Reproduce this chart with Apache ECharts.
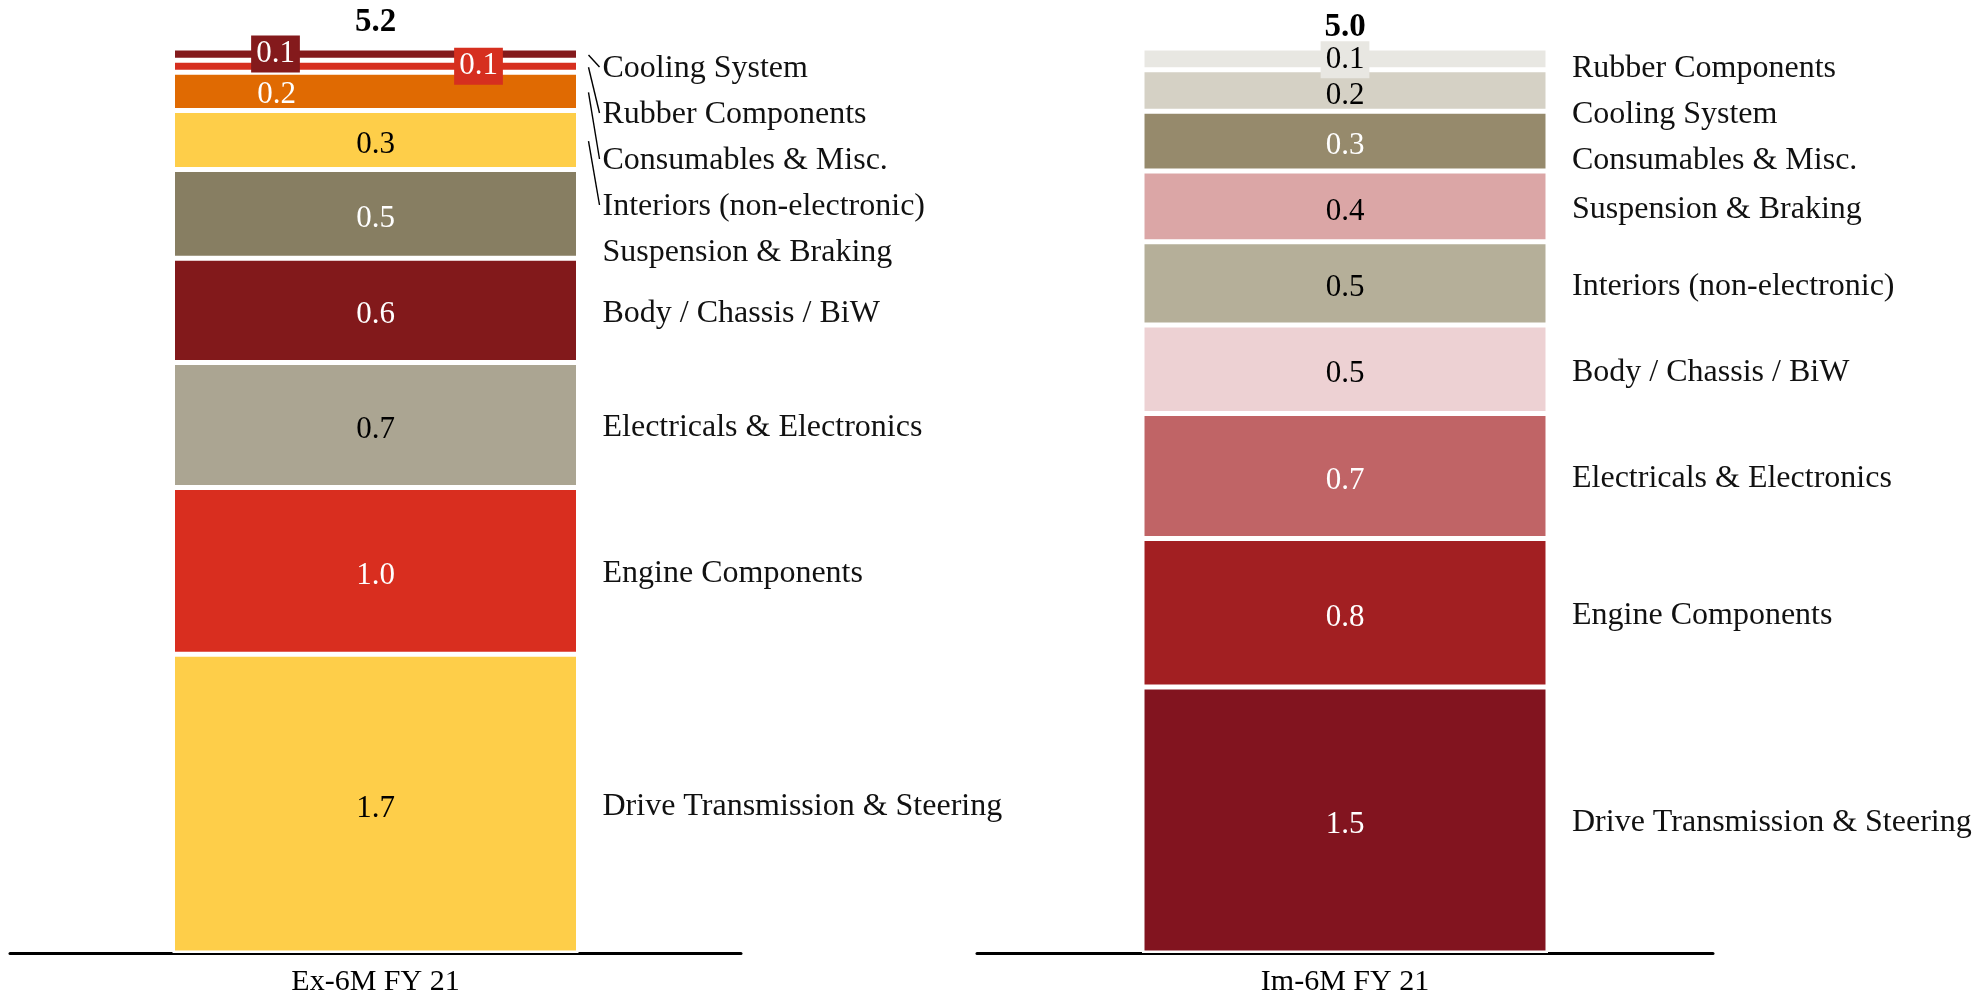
<!DOCTYPE html>
<html><head><meta charset="utf-8">
<script src="https://cdn.jsdelivr.net/npm/echarts@6/dist/echarts.min.js"></script>
<style>html,body{margin:0;padding:0;background:#fff}#c{width:1982px;height:998px}</style>
</head><body><div id="c"></div>
<script>
// ---- data (stack order: bottom -> top) ----
const periodLabels = ['Ex-6M FY 21', 'Im-6M FY 21'];
const categoriesEx = ['Drive Transmission & Steering', 'Engine Components', 'Electricals & Electronics', 'Body / Chassis / BiW', 'Suspension & Braking', 'Interiors (non-electronic)', 'Consumables & Misc.', 'Rubber Components', 'Cooling System'];
const valuesEx = [1.72, 0.96, 0.72, 0.60, 0.51, 0.34, 0.22, 0.07, 0.07];
const categoriesIm = ['Drive Transmission & Steering', 'Engine Components', 'Electricals & Electronics', 'Body / Chassis / BiW', 'Interiors (non-electronic)', 'Suspension & Braking', 'Consumables & Misc.', 'Cooling System', 'Rubber Components'];
const valuesIm = [1.47, 0.82, 0.69, 0.49, 0.46, 0.39, 0.33, 0.23, 0.12];

// ---- styles ----
const colorsEx = ['#FECE49', '#D92E1F', '#ABA592', '#82191B', '#877E62', '#FECE49', '#E06A02', '#D62F1F', '#841A1C'];
const textEx = ['#000', '#fff', '#000', '#fff', '#fff', '#000', '#fff', '#fff', '#fff'];
const colorsIm = ['#82141F', '#A21F22', '#C06466', '#EDD1D3', '#B5AF99', '#DBA6A6', '#968A6C', '#D5D1C5', '#E8E7E2'];
const textIm = ['#fff', '#fff', '#fff', '#000', '#000', '#000', '#fff', '#000', '#000'];
const specialEx = {
  'Cooling System': { offset: [-100, 0], box: true },
  'Rubber Components': { offset: [103, 0], box: true },
  'Consumables & Misc.': { offset: [-99, 3] }
};
const specialIm = { 'Rubber Components': { offset: [0, 1], box: true } };

const FONT = 'Liberation Serif';
const BARW = 406;
const SPACING = 46, TOPPAD = 18;
const sum = a => a.reduce((x, y) => x + y, 0);
const sides = [
  { names: categoriesEx, values: valuesEx, colors: colorsEx, text: textEx, special: specialEx, totalDist: 9 },
  { names: categoriesIm, values: valuesIm, colors: colorsIm, text: textIm, special: specialIm, totalDist: 4 }
];

// label placement: segment centres, pushed down (top -> bottom) to keep a minimum spacing
function cascade(vals, toY) {
  const n = vals.length, centers = [], bottoms = [];
  let c = 0;
  vals.forEach((v, j) => { bottoms[j] = toY(c); centers[j] = toY(c + v / 2); c += v; });
  const top = toY(c);
  const ys = []; let prev = top + TOPPAD - SPACING;
  for (let j = n - 1; j >= 0; j--) { ys[j] = Math.max(centers[j], prev + SPACING); prev = ys[j]; }
  return { centers, bottoms, ys };
}

function makeLayout(g, k) {
  return function (params) {
    const vals = sides[g].values;
    const r = params.rect;
    const ppu = r.height / vals[k];
    let below = 0; for (let j = 0; j < k; j++) below += vals[j];
    const base = r.y + r.height + below * ppu;
    const L = cascade(vals, v => base - v * ppu);
    return { x: r.x + r.width + 24, y: L.ys[k] + 3, align: 'left', verticalAlign: 'middle' };
  };
}

const series = [];
sides.forEach((s, g) => {
  const stack = 'v' + g;
  s.names.forEach((name, k) => {
    const sp = s.special[name] || {};
    series.push({
      type: 'bar', name: name, xAxisIndex: g, yAxisIndex: g, stack: stack, barWidth: BARW, barGap: '-100%',
      data: [s.values[k]], silent: true, animation: false,
      itemStyle: { color: s.colors[k], borderColor: '#fff', borderWidth: 2.5 },
      label: {
        show: true, position: 'inside', formatter: p => p.value.toFixed(1), color: s.text[k],
        fontFamily: FONT, fontSize: 31, lineHeight: 30, offset: sp.offset || [0, 5],
        backgroundColor: sp.box ? s.colors[k] : 'transparent', padding: sp.box ? [4, 5, 3, 5] : 0
      }
    });
  });
  const total = sum(s.values);
  series.push({
    type: 'bar', xAxisIndex: g, yAxisIndex: g, stack: stack, barWidth: BARW, barGap: '-100%',
    data: [0], silent: true, animation: false, itemStyle: { color: 'rgba(0,0,0,0)' },
    label: { show: true, position: 'top', distance: s.totalDist, formatter: () => total.toFixed(1),
      fontFamily: FONT, fontWeight: 'bold', fontSize: 33, color: '#000' }
  });
  s.names.forEach((name, k) => {
    series.push({
      type: 'bar', name: name, xAxisIndex: g, yAxisIndex: g, stack: 'n' + g, barWidth: BARW, barGap: '-100%',
      data: [s.values[k]], silent: true, animation: false,
      itemStyle: { color: 'rgba(0,0,0,0)', borderWidth: 0 },
      label: { show: true, position: 'right', formatter: name, fontFamily: FONT, fontSize: 32, color: '#111' },
      labelLayout: makeLayout(g, k)
    });
  });
  // leader lines for labels pushed clear of their segment
  series.push({
    type: 'custom', xAxisIndex: g, yAxisIndex: g, data: [[0, total]], silent: true, animation: false, z: 5,
    renderItem: function (params, api) {
      const vals = s.values;
      const L = cascade(vals, v => api.coord([0, v])[1]);
      const right = api.coord([0, 0])[0] + BARW / 2;
      const children = [];
      vals.forEach((v, j) => {
        if (L.ys[j] - L.bottoms[j] > 5) {
          children.push({
            type: 'polyline',
            shape: { points: [[right + 10, L.centers[j] + 1], [right + 21, L.ys[j] + 1]] },
            style: { stroke: '#000', lineWidth: 1.4, fill: null }
          });
        }
      });
      return { type: 'group', children: children };
    }
  });
});

const axisCommon = {
  type: 'category', axisTick: { show: false },
  axisLine: { lineStyle: { color: '#000', width: 3 } },
  axisLabel: { fontFamily: FONT, fontSize: 30, color: '#000', margin: 14 }
};

const chart = echarts.init(document.getElementById('c'), null, { renderer: 'canvas' });
chart.setOption({
  animation: false,
  backgroundColor: '#fff',
  grid: [
    { left: 10, width: 731, top: 48, bottom: 45, outerBoundsMode: 'none' },
    { left: 977, width: 736, top: 48, bottom: 45, outerBoundsMode: 'none' }
  ],
  xAxis: [
    Object.assign({}, axisCommon, { gridIndex: 0, data: [periodLabels[0]] }),
    Object.assign({}, axisCommon, { gridIndex: 1, data: [periodLabels[1]] })
  ],
  yAxis: [
    { type: 'value', gridIndex: 0, min: 0, max: sum(valuesEx), show: false },
    { type: 'value', gridIndex: 1, min: 0, max: sum(valuesIm), show: false }
  ],
  series: series
});
</script>
</body></html>
